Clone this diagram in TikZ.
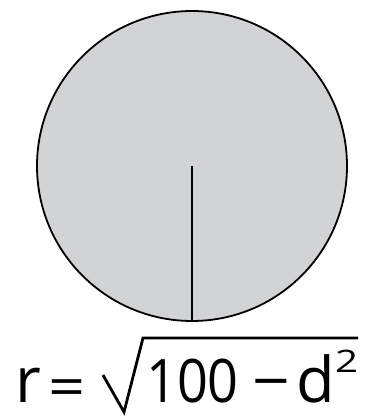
\documentclass[tikz,border=0pt]{standalone}
\usepackage{fontspec}
\setmainfont{Open Sans}
\definecolor{disc}{RGB}{210,211,212}
\tikzset{
  letter/.style={inner sep=0pt, font=\fontsize{63}{72}\selectfont},
  digit/.style={inner sep=0pt, font=\fontsize{60}{70}\selectfont},
  sign/.style={inner sep=0pt, font=\fontsize{48}{56}\selectfont},
  small/.style={inner sep=0pt, font=\fontsize{31}{36}\selectfont},
  edge/.style={line width=1.8pt, draw=black}
}
\begin{document}
\begin{tikzpicture}[x=1pt,y=-1pt]
  \useasboundingbox (0,0) rectangle (366,417);
  \node[circle, edge, fill=disc, minimum size=310pt, inner sep=0pt] (c) at (192,166) {};
  \coordinate (ctr) at (192,166);
  \draw[line width=1.6pt] (ctr) -- (c.south);
  \node[letter, anchor=base west] (r) at (15,402) {r};
  \node[sign, anchor=base] (eq) at (67.5,406) {\scalebox{1.35}[1.15]{=}};
  \coordinate (r1) at (103,375);
  \coordinate (r2) at (124,412);
  \coordinate (r3) at (143,338);
  \coordinate (r4) at (358,338);
  \draw[line width=2.8pt, line join=miter] (r1) -- (r2) -- (r3) -- (r4);
  \node[digit, anchor=base west] (num) at (146,402) {\scalebox{0.9}[1]{100}};
  \node[digit, anchor=base] (minus) at (271,402) {\scalebox{1.1}[1]{−}};
  \node[letter, anchor=base west] (d) at (296,402) {d};
  \node[small, anchor=base west] (sq) at (335,372) {\scalebox{1.3}[1]{2}};
\end{tikzpicture}
\end{document}
